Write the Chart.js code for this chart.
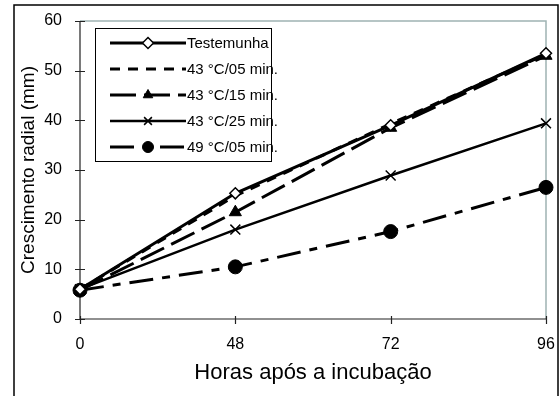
<!DOCTYPE html>
<html>
<head>
<meta charset="utf-8">
<script src="https://cdn.jsdelivr.net/npm/chart.js@4.4.0/dist/chart.umd.min.js"></script>
<style>
  html, body { margin: 0; padding: 0; background: #fff; }
  #wrap { width: 560px; height: 396px; }
</style>
</head>
<body>
<div id="wrap"><canvas id="chart" width="560" height="396"></canvas></div>
<script>
// Horas após a incubação (categories)
const horas = ['0', '48', '72', '96'];

// Crescimento radial (mm) per treatment
const testemunha = [6.0, 25.3, 39.0, 53.5];
const t43_05 = [6.0, 24.8, 39.3, 53.3];
const t43_15 = [5.8, 21.5, 38.5, 53.0];
const t43_25 = [6.0, 18.0, 28.9, 39.4];
const t49_05 = [5.8, 10.5, 17.6, 26.5];

const labels = ['Testemunha', '43 °C/05 min.', '43 °C/15 min.', '43 °C/25 min.', '49 °C/05 min.'];
const yTicks = [0, 10, 20, 30, 40, 50, 60];

const FONT = 'Arial, "Liberation Sans", sans-serif';

function series(label, data, style) {
    return Object.assign({
        label: label,
        data: data,
        borderColor: '#000',
        backgroundColor: '#000',
        pointBorderColor: '#000',
        pointBackgroundColor: '#000',
        fill: false,
        tension: 0,
        borderWidth: 3
    }, style);
}

const datasets = [
    series(labels[0], testemunha, { pointStyle: 'rectRot', pointRadius: 5.5, pointBackgroundColor: '#fff', pointBorderWidth: 1.5 }),
    series(labels[1], t43_05, { borderDash: [10, 8], pointRadius: 0 }),
    series(labels[2], t43_15, { borderDash: [26, 8], pointStyle: 'triangle', pointRadius: 7, pointBorderWidth: 1 }),
    series(labels[3], t43_25, { borderWidth: 2.5, pointStyle: 'crossRot', pointRadius: 7, pointBorderWidth: 1.5 }),
    series(labels[4], t49_05, { borderDash: [24, 9, 8, 9], pointStyle: 'circle', pointRadius: 7, pointBorderWidth: 1 })
];

// Frame, axis lines with crossing ticks
const framePlugin = {
    id: 'frame',
    beforeDatasetsDraw(chart) {
        const { ctx, chartArea: a, scales } = chart;
        ctx.save();
        // outer frame
        ctx.strokeStyle = '#000';
        ctx.lineWidth = 1.5;
        ctx.beginPath();
        ctx.moveTo(14, 400);
        ctx.lineTo(14, 5);
        ctx.lineTo(558, 5);
        ctx.lineTo(558, 400);
        ctx.stroke();
        // top and right plot border in grey
        ctx.strokeStyle = '#9fb3b3';
        ctx.lineWidth = 1.5;
        ctx.beginPath();
        ctx.moveTo(a.left, a.top);
        ctx.lineTo(a.right, a.top);
        ctx.lineTo(a.right, a.bottom);
        ctx.stroke();
        // left and bottom axes
        ctx.strokeStyle = '#222';
        ctx.lineWidth = 1.2;
        ctx.beginPath();
        ctx.moveTo(a.left, a.top);
        ctx.lineTo(a.left, a.bottom);
        ctx.lineTo(a.right, a.bottom);
        scales.y.ticks.forEach(t => {
            const y = Math.round(scales.y.getPixelForValue(t.value)) + 0.5;
            ctx.moveTo(a.left - 5, y);
            ctx.lineTo(a.left + 5, y);
        });
        scales.x.ticks.forEach((t, i) => {
            const x = Math.round(scales.x.getPixelForTick(i)) + 0.5;
            ctx.moveTo(x, a.bottom - 3);
            ctx.lineTo(x, a.bottom + 5);
        });
        ctx.stroke();
        ctx.restore();
    }
};

// Boxed legend drawn with each dataset's own line and marker
const legendPlugin = {
    id: 'boxLegend',
    afterDraw(chart) {
        const { ctx } = chart;
        const box = { x: 95.5, y: 28.5, w: 176, h: 133 };
        ctx.save();
        ctx.fillStyle = '#fff';
        ctx.fillRect(box.x, box.y, box.w, box.h);
        ctx.strokeStyle = '#000';
        ctx.lineWidth = 1;
        ctx.strokeRect(box.x, box.y, box.w, box.h);
        chart.data.datasets.forEach((ds, i) => {
            const y = 43 + i * 26;
            ctx.strokeStyle = '#000';
            ctx.lineWidth = ds.borderWidth;
            ctx.setLineDash(ds.borderDash || []);
            ctx.beginPath();
            ctx.moveTo(110, y);
            ctx.lineTo(186, y);
            ctx.stroke();
            ctx.setLineDash([]);
            if (ds.pointRadius > 0) {
                ctx.fillStyle = ds.pointBackgroundColor;
                ctx.strokeStyle = ds.pointBorderColor;
                ctx.lineWidth = ds.pointBorderWidth || 1;
                Chart.helpers.drawPoint(ctx, { pointStyle: ds.pointStyle, radius: Math.min(ds.pointRadius, 5.5), borderWidth: ds.pointBorderWidth || 1 }, 148, y);
            }
            ctx.fillStyle = '#000';
            ctx.font = '15px ' + FONT;
            ctx.textBaseline = 'middle';
            ctx.textAlign = 'left';
            ctx.fillText(ds.label, 187, y + 1);
        });
        ctx.restore();
    }
};

new Chart(document.getElementById('chart'), {
    type: 'line',
    data: { labels: horas, datasets: datasets },
    options: {
        responsive: false,
        animation: false,
        layout: { padding: { left: 14, right: 14, top: 21, bottom: 0 } },
        plugins: { legend: { display: false }, tooltip: { enabled: false } },
        scales: {
            x: {
                type: 'category',
                offset: false,
                grid: { display: false, drawTicks: false },
                border: { display: false },
                ticks: { color: '#000', font: { family: FONT, size: 16 }, padding: 16, maxRotation: 0 },
                title: { display: true, text: 'Horas após a incubação', color: '#000', font: { family: FONT, size: 22 }, padding: { top: 0, bottom: 10 } },
                afterFit(scale) {
                    scale.height = 77;
                    scale.paddingLeft = 0;
                    scale.paddingRight = 0;
                }
            },
            y: {
                min: 0,
                max: 60,
                grid: { display: false, drawTicks: false },
                border: { display: false },
                afterBuildTicks(scale) { scale.ticks = yTicks.map(v => ({ value: v })); },
                ticks: { color: '#000', font: { family: FONT, size: 16 }, padding: 18 },
                title: { display: true, text: 'Crescimento radial (mm)', color: '#000', font: { family: FONT, size: 19 }, padding: { top: 3, bottom: 0 } },
                afterFit(scale) {
                    scale.width = 66;
                    scale.paddingTop = 0;
                    scale.paddingBottom = 0;
                }
            }
        }
    },
    plugins: [framePlugin, legendPlugin]
});
</script>
</body>
</html>
